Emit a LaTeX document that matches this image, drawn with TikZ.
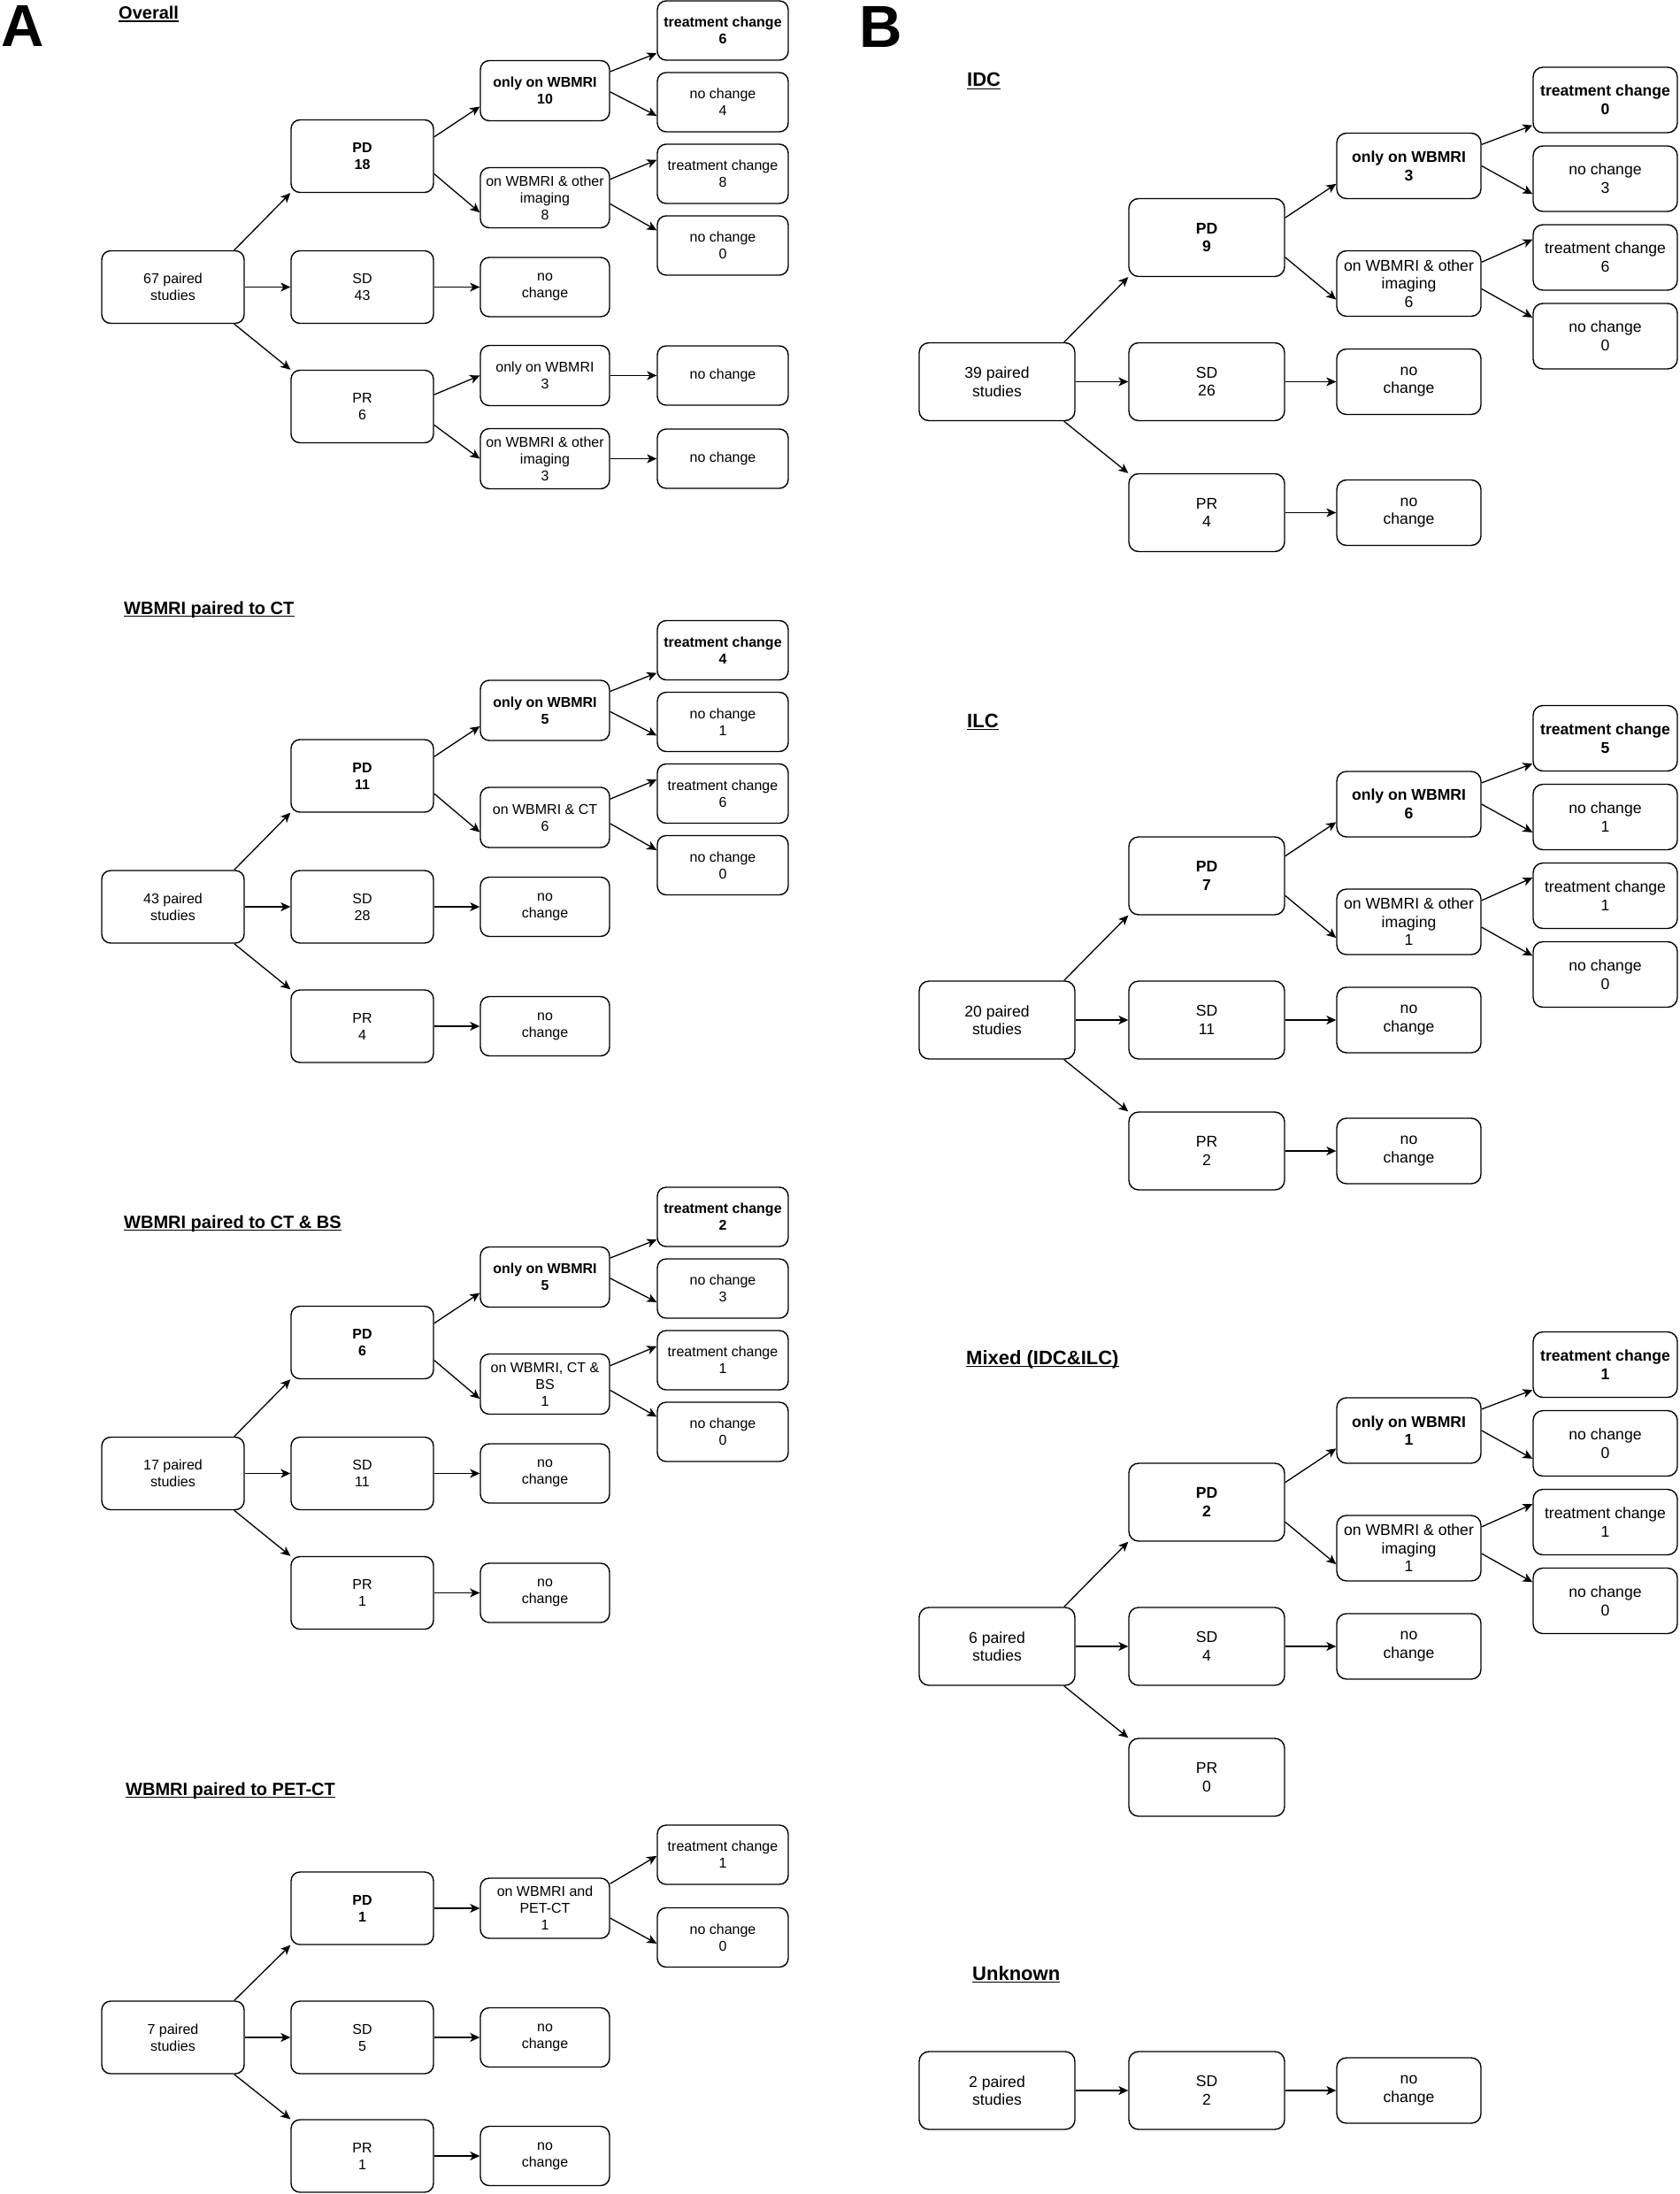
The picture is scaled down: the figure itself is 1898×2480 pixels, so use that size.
\documentclass[tikz,border=0pt]{standalone}
\usepackage{fontspec}
\setmainfont{Liberation Sans}
\usetikzlibrary{calc,arrows.meta}
\newcommand\fA{\fontsize{16}{19}\selectfont}
\newcommand\fB{\fontsize{17.6}{20.6}\selectfont}
\newcommand\edgeconn[4]{\draw[arr] ($(#1.north east)!#2!(#1.south east)$) -- ($(#3.north west)!#4!(#3.south west)$);}
\newcommand\ulnode[2]{\draw[line width=#2] ([yshift=-2.6pt]#1.base west) -- ([yshift=-2.6pt]#1.base east);}
\begin{document}
\begin{tikzpicture}[x=1pt,y=-1pt,
  arr/.style={line width=1.3pt,-{Stealth[length=11pt,width=10pt,inset=3pt]}},
  box/.style={draw,rounded corners=10pt,line width=1.4pt,align=center,inner sep=0pt},
  Aone/.style={box,font=\fA,minimum width=161pt,minimum height=82pt},
  Atwo/.style={box,font=\fA,minimum width=146pt,minimum height=68pt},
  Athree/.style={box,font=\fA,minimum width=148pt,minimum height=67pt},
  Bone/.style={box,font=\fB,rounded corners=11pt,minimum width=176pt,minimum height=88pt},
  Btwo/.style={box,font=\fB,rounded corners=11pt,minimum width=163pt,minimum height=74pt},
  bfA/.style={font=\fA\bfseries},
  bfB/.style={font=\fB\bfseries},
  ttlA/.style={font=\fontsize{20}{24}\selectfont\bfseries,inner sep=0pt,anchor=base west},
  ttlB/.style={font=\fontsize{22}{26}\selectfont\bfseries,inner sep=0pt,anchor=base west},
  panel/.style={font=\fontsize{67}{75}\selectfont\bfseries,inner sep=0pt,anchor=base west}]
\fill[white] (0,0) rectangle (1898,2480);
\useasboundingbox (0,0) rectangle (1898,2480);

% panel letters
\node[panel] (pA) at (1,53) {A};
\node[panel] (pB) at (971,54) {B};

% titles
\node[ttlA] (tov) at (134,21.5) {Overall}; \ulnode{tov}{1.4pt}
\node[ttlA] (tct) at (140,694) {WBMRI paired to CT}; \ulnode{tct}{1.4pt}
\node[ttlA] (tcb) at (140,1388) {WBMRI paired to CT \& BS}; \ulnode{tcb}{1.4pt}
\node[ttlA] (tpe) at (142,2029) {WBMRI paired to PET-CT}; \ulnode{tpe}{1.4pt}
\node[ttlB] (tid) at (1093,98) {IDC}; \ulnode{tid}{1.5pt}
\node[ttlB] (til) at (1093,822) {ILC}; \ulnode{til}{1.5pt}
\node[ttlB] (tmx) at (1092,1542) {Mixed (IDC\&ILC)}; \ulnode{tmx}{1.5pt}
\node[ttlB] (tun) at (1099,2238) {Unknown}; \ulnode{tun}{1.5pt}

% ===== A: Overall =====
\begin{scope}[shift={(0,324.5)}]
\node[Aone] (o0) at (195.5,0) {67 paired\\studies};
\node[Aone,bfA] (opd) at (409.5,-148) {PD\\18};
\node[Aone] (osd) at (409.5,0) {SD\\43};
\node[Aone] (opr) at (409.5,135) {PR\\6};
\node[Atwo,bfA] (oon) at (616,-222) {only on WBMRI\\10};
\node[Atwo] (oot) at (616,-101) {on WBMRI \& other\\imaging\\8};
\node[Atwo,minimum height=67pt] (osn) at (616,0) {no\\change};
\node[Atwo] (opo) at (616,100) {only on WBMRI\\3};
\node[Atwo] (opt) at (616,194) {on WBMRI \& other\\imaging\\3};
\node[Athree,bfA] (otc1) at (817,-290) {treatment change\\6};
\node[Athree] (onc1) at (817,-209) {no change\\4};
\node[Athree] (otc2) at (817,-128) {treatment change\\8};
\node[Athree] (onc2) at (817,-47) {no change\\0};
\node[Athree] (onc3) at (817,100) {no change};
\node[Athree] (onc4) at (817,194) {no change};
\draw[arr] ([xshift=-12pt]o0.north east) -- (opd.south west);
\draw[arr] (o0.east) -- (osd.west);
\draw[arr] ([xshift=-12pt]o0.south east) -- (opr.north west);
\edgeconn{opd}{0.24}{oon}{0.76}
\edgeconn{opd}{0.74}{oot}{0.74}
\draw[arr] (osd.east) -- (osn.west);
\edgeconn{opr}{0.34}{opo}{0.5}
\edgeconn{opr}{0.75}{opt}{0.5}
\edgeconn{oon}{0.19}{otc1}{0.875}
\edgeconn{oon}{0.52}{onc1}{0.725}
\edgeconn{oot}{0.2}{otc2}{0.27}
\edgeconn{oot}{0.6}{onc2}{0.25}
\draw[arr] (opo.east) -- (onc3.west);
\draw[arr] (opt.east) -- (onc4.west);
\end{scope}

% ===== A: WBMRI paired to CT =====
\begin{scope}[shift={(0,1025)}]
\node[Aone] (c0) at (195.5,0) {43 paired\\studies};
\node[Aone,bfA] (cpd) at (409.5,-148) {PD\\11};
\node[Aone] (csd) at (409.5,0) {SD\\28};
\node[Aone] (cpr) at (409.5,135) {PR\\4};
\node[Atwo,bfA] (con) at (616,-222) {only on WBMRI\\5};
\node[Atwo] (cot) at (616,-101) {on WBMRI \& CT\\6};
\node[Atwo,minimum height=67pt] (csn) at (616,0) {no\\change};
\node[Atwo,minimum height=67pt] (cpn) at (616,135) {no\\change};
\node[Athree,bfA] (ctc1) at (817,-290) {treatment change\\4};
\node[Athree] (cnc1) at (817,-209) {no change\\1};
\node[Athree] (ctc2) at (817,-128) {treatment change\\6};
\node[Athree] (cnc2) at (817,-47) {no change\\0};
\draw[arr] ([xshift=-12pt]c0.north east) -- (cpd.south west);
\draw[arr] (c0.east) -- (csd.west);
\draw[arr] ([xshift=-12pt]c0.south east) -- (cpr.north west);
\edgeconn{cpd}{0.24}{con}{0.76}
\edgeconn{cpd}{0.74}{cot}{0.74}
\draw[arr] (csd.east) -- (csn.west);
\draw[arr] (cpr.east) -- (cpn.west);
\edgeconn{con}{0.19}{ctc1}{0.875}
\edgeconn{con}{0.52}{cnc1}{0.725}
\edgeconn{cot}{0.2}{ctc2}{0.27}
\edgeconn{cot}{0.6}{cnc2}{0.25}
\end{scope}

% ===== A: WBMRI paired to CT & BS =====
\begin{scope}[shift={(0,1665.5)}]
\node[Aone] (b0) at (195.5,0) {17 paired\\studies};
\node[Aone,bfA] (bpd) at (409.5,-148) {PD\\6};
\node[Aone] (bsd) at (409.5,0) {SD\\11};
\node[Aone] (bpr) at (409.5,135) {PR\\1};
\node[Atwo,bfA] (bon) at (616,-222) {only on WBMRI\\5};
\node[Atwo] (bot) at (616,-101) {on WBMRI, CT \&\\BS\\1};
\node[Atwo,minimum height=67pt] (bsn) at (616,0) {no\\change};
\node[Atwo,minimum height=67pt] (bpn) at (616,135) {no\\change};
\node[Athree,bfA] (btc1) at (817,-290) {treatment change\\2};
\node[Athree] (bnc1) at (817,-209) {no change\\3};
\node[Athree] (btc2) at (817,-128) {treatment change\\1};
\node[Athree] (bnc2) at (817,-47) {no change\\0};
\draw[arr] ([xshift=-12pt]b0.north east) -- (bpd.south west);
\draw[arr] (b0.east) -- (bsd.west);
\draw[arr] ([xshift=-12pt]b0.south east) -- (bpr.north west);
\edgeconn{bpd}{0.24}{bon}{0.76}
\edgeconn{bpd}{0.74}{bot}{0.74}
\draw[arr] (bsd.east) -- (bsn.west);
\draw[arr] (bpr.east) -- (bpn.west);
\edgeconn{bon}{0.19}{btc1}{0.875}
\edgeconn{bon}{0.52}{bnc1}{0.725}
\edgeconn{bot}{0.2}{btc2}{0.27}
\edgeconn{bot}{0.6}{bnc2}{0.25}
\end{scope}

% ===== A: WBMRI paired to PET-CT =====
\begin{scope}[shift={(0,2303)}]
\node[Aone] (p0) at (195.5,0) {7 paired\\studies};
\node[Aone,bfA] (ppd) at (409.5,-146) {PD\\1};
\node[Aone] (psd) at (409.5,0) {SD\\5};
\node[Aone] (ppr) at (409.5,134) {PR\\1};
\node[Atwo] (ppet) at (616,-146) {on WBMRI and\\PET-CT\\1};
\node[Atwo,minimum height=67pt] (psn) at (616,0) {no\\change};
\node[Atwo,minimum height=67pt] (ppn) at (616,134) {no\\change};
\node[Athree] (ptc) at (817,-206.5) {treatment change\\1};
\node[Athree] (pnc) at (817,-113) {no change\\0};
\draw[arr] ([xshift=-12pt]p0.north east) -- (ppd.south west);
\draw[arr] (p0.east) -- (psd.west);
\draw[arr] ([xshift=-12pt]p0.south east) -- (ppr.north west);
\draw[arr] (ppd.east) -- (ppet.west);
\edgeconn{ppet}{0.1}{ptc}{0.52}
\edgeconn{ppet}{0.66}{pnc}{0.6}
\draw[arr] (psd.east) -- (psn.west);
\draw[arr] (ppr.east) -- (ppn.west);
\end{scope}

% ===== B: IDC =====
\begin{scope}[shift={(0,431.5)}]
\node[Bone] (i0) at (1127,0) {39 paired\\studies};
\node[Bone,bfB] (ipd) at (1364,-163) {PD\\9};
\node[Bone] (isd) at (1364,0) {SD\\26};
\node[Bone] (ipr) at (1364,148) {PR\\4};
\node[Btwo,bfB] (ion) at (1592.5,-244) {only on WBMRI\\3};
\node[Btwo] (iot) at (1592.5,-111) {on WBMRI \& other\\imaging\\6};
\node[Btwo] (isn) at (1592.5,0) {no\\change};
\node[Btwo] (ipn) at (1592.5,148) {no\\change};
\node[Btwo,bfB] (itc1) at (1814.5,-318.5) {treatment change\\0};
\node[Btwo] (inc1) at (1814.5,-229.5) {no change\\3};
\node[Btwo] (itc2) at (1814.5,-140.5) {treatment change\\6};
\node[Btwo] (inc2) at (1814.5,-51.5) {no change\\0};
\draw[arr] ([xshift=-13pt]i0.north east) -- (ipd.south west);
\draw[arr] (i0.east) -- (isd.west);
\draw[arr] ([xshift=-13pt]i0.south east) -- (ipr.north west);
\edgeconn{ipd}{0.25}{ion}{0.77}
\edgeconn{ipd}{0.75}{iot}{0.74}
\draw[arr] (isd.east) -- (isn.west);
\draw[arr] (ipr.east) -- (ipn.west);
\edgeconn{ion}{0.18}{itc1}{0.88}
\edgeconn{ion}{0.5}{inc1}{0.73}
\edgeconn{iot}{0.18}{itc2}{0.23}
\edgeconn{iot}{0.58}{inc2}{0.22}
\end{scope}

% ===== B: ILC =====
\begin{scope}[shift={(0,1153)}]
\node[Bone] (l0) at (1127,0) {20 paired\\studies};
\node[Bone,bfB] (lpd) at (1364,-163) {PD\\7};
\node[Bone] (lsd) at (1364,0) {SD\\11};
\node[Bone] (lpr) at (1364,148) {PR\\2};
\node[Btwo,bfB] (lon) at (1592.5,-244) {only on WBMRI\\6};
\node[Btwo] (lot) at (1592.5,-111) {on WBMRI \& other\\imaging\\1};
\node[Btwo] (lsn) at (1592.5,0) {no\\change};
\node[Btwo] (lpn) at (1592.5,148) {no\\change};
\node[Btwo,bfB] (ltc1) at (1814.5,-318.5) {treatment change\\5};
\node[Btwo] (lnc1) at (1814.5,-229.5) {no change\\1};
\node[Btwo] (ltc2) at (1814.5,-140.5) {treatment change\\1};
\node[Btwo] (lnc2) at (1814.5,-51.5) {no change\\0};
\draw[arr] ([xshift=-13pt]l0.north east) -- (lpd.south west);
\draw[arr] (l0.east) -- (lsd.west);
\draw[arr] ([xshift=-13pt]l0.south east) -- (lpr.north west);
\edgeconn{lpd}{0.25}{lon}{0.77}
\edgeconn{lpd}{0.75}{lot}{0.74}
\draw[arr] (lsd.east) -- (lsn.west);
\draw[arr] (lpr.east) -- (lpn.west);
\edgeconn{lon}{0.18}{ltc1}{0.88}
\edgeconn{lon}{0.5}{lnc1}{0.73}
\edgeconn{lot}{0.18}{ltc2}{0.23}
\edgeconn{lot}{0.58}{lnc2}{0.22}
\end{scope}

% ===== B: Mixed =====
\begin{scope}[shift={(0,1861)}]
\node[Bone] (m0) at (1127,0) {6 paired\\studies};
\node[Bone,bfB] (mpd) at (1364,-163) {PD\\2};
\node[Bone] (msd) at (1364,0) {SD\\4};
\node[Bone] (mpr) at (1364,148) {PR\\0};
\node[Btwo,bfB] (mon) at (1592.5,-244) {only on WBMRI\\1};
\node[Btwo] (mot) at (1592.5,-111) {on WBMRI \& other\\imaging\\1};
\node[Btwo] (msn) at (1592.5,0) {no\\change};
\node[Btwo,bfB] (mtc1) at (1814.5,-318.5) {treatment change\\1};
\node[Btwo] (mnc1) at (1814.5,-229.5) {no change\\0};
\node[Btwo] (mtc2) at (1814.5,-140.5) {treatment change\\1};
\node[Btwo] (mnc2) at (1814.5,-51.5) {no change\\0};
\draw[arr] ([xshift=-13pt]m0.north east) -- (mpd.south west);
\draw[arr] (m0.east) -- (msd.west);
\draw[arr] ([xshift=-13pt]m0.south east) -- (mpr.north west);
\edgeconn{mpd}{0.25}{mon}{0.77}
\edgeconn{mpd}{0.75}{mot}{0.74}
\draw[arr] (msd.east) -- (msn.west);
\edgeconn{mon}{0.18}{mtc1}{0.88}
\edgeconn{mon}{0.5}{mnc1}{0.73}
\edgeconn{mot}{0.18}{mtc2}{0.23}
\edgeconn{mot}{0.58}{mnc2}{0.22}
\end{scope}

% ===== B: Unknown =====
\begin{scope}[shift={(0,2363)}]
\node[Bone] (u0) at (1127,0) {2 paired\\studies};
\node[Bone] (usd) at (1364,0) {SD\\2};
\node[Btwo] (usn) at (1592.5,0) {no\\change};
\draw[arr] (u0.east) -- (usd.west);
\draw[arr] (usd.east) -- (usn.west);
\end{scope}
\end{tikzpicture}
\end{document}
